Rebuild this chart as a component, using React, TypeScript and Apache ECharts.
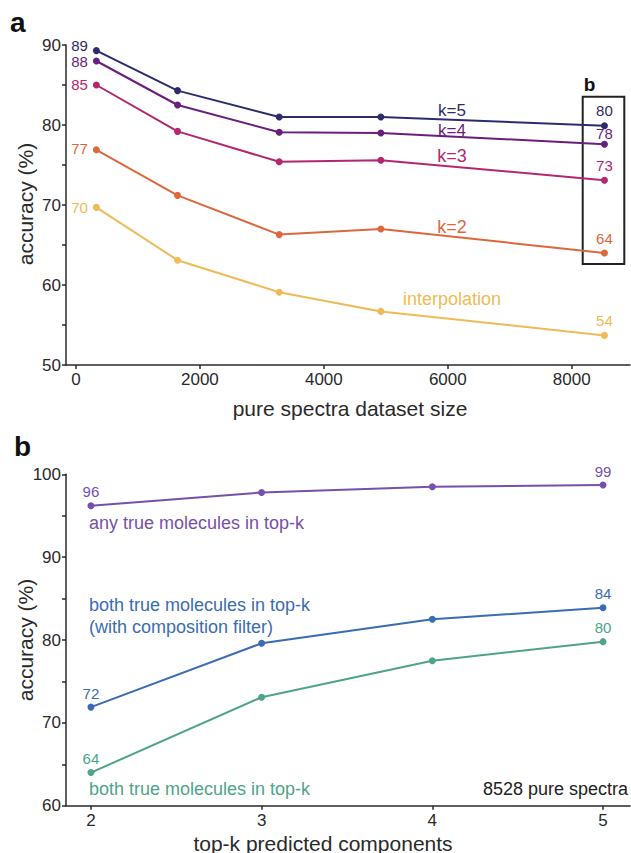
import React, { useEffect, useRef } from "react";
import * as echarts from "echarts";

// ---- Panel a data ----
const datasetSizes = [330, 1640, 3280, 4920, 8528];
const k5 = [89.3, 84.3, 81.0, 81.0, 79.9];
const k4 = [88.0, 82.5, 79.1, 79.0, 77.6];
const k3 = [85.0, 79.2, 75.4, 75.6, 73.1];
const k2 = [76.9, 71.2, 66.3, 67.0, 64.0];
const interpolation = [69.7, 63.1, 59.1, 56.7, 53.7];
const xTicksA = [0, 2000, 4000, 6000, 8000];

// ---- Panel b data ----
const topK = [2, 3, 4, 5];
const anyTrue = [96.2, 97.8, 98.5, 98.7];
const bothFilter = [71.9, 79.6, 82.5, 83.9];
const bothTrue = [64.0, 73.1, 77.5, 79.8];

const FONT = "'Liberation Sans', Arial, sans-serif";
const AX = "#2a2a2a";

const C = {
  k5: "#2c2c6c",
  k4: "#6a1f7c",
  k3: "#b3276e",
  k2: "#dc683c",
  interp: "#eebb57",
  any: "#7651a9",
  filt: "#3a6cb4",
  both: "#4ea487",
};

function seriesA(name: string, vals: number[], color: string, firstOffset: number[], lastOffset: number[]) {
  const n = vals.length;
  return {
    type: "line",
    name,
    xAxisIndex: 0,
    yAxisIndex: 0,
    clip: false,
    symbol: "circle",
    symbolSize: 7,
    lineStyle: { color, width: 2 },
    itemStyle: { color },
    data: vals.map((v, i) => {
      const item: any = { value: [datasetSizes[i], v] };
      if (i === 0) {
        item.label = {
          show: true,
          position: "left",
          distance: 5,
          offset: firstOffset,
          formatter: String(Math.round(v)),
          color,
          fontSize: 15,
          fontFamily: FONT,
        };
      } else if (i === n - 1) {
        item.label = {
          show: true,
          position: "top",
          distance: 4,
          offset: lastOffset,
          formatter: String(Math.round(v)),
          color,
          fontSize: 15,
          fontFamily: FONT,
        };
      }
      return item;
    }),
  };
}

function seriesB(name: string, vals: number[], color: string) {
  const n = vals.length;
  return {
    type: "line",
    name,
    xAxisIndex: 1,
    yAxisIndex: 1,
    clip: false,
    symbol: "circle",
    symbolSize: 7,
    lineStyle: { color, width: 2 },
    itemStyle: { color },
    data: vals.map((v, i) => {
      const item: any = { value: [topK[i], v] };
      if (i === 0 || i === n - 1) {
        item.label = {
          show: true,
          position: "top",
          distance: 3,
          formatter: String(Math.round(v)),
          color,
          fontSize: 15,
          fontFamily: FONT,
        };
      }
      return item;
    }),
  };
}

function txt(text: string, x: number, y: number, color: string, size: number, align = "left", extra: any = {}) {
  return {
    type: "text",
    x,
    y,
    style: {
      text,
      fill: color,
      font: `${extra.bold ? "bold " : ""}${size}px ${FONT}`,
      textAlign: align,
      textVerticalAlign: "middle",
    },
  };
}

export default function App() {
  const ref = useRef<HTMLDivElement>(null);
  useEffect(() => {
    if (!ref.current) return;
    const chart = echarts.init(ref.current, null, { renderer: "svg" });
    const axisCommon = {
      axisLine: { show: true, onZero: false, lineStyle: { color: AX, width: 1.5 } },
      splitLine: { show: false },
    };
    const plain = (v: number) => String(v);
    const tens = (v: number) => (v % 10 === 0 ? String(v) : "");
    const option: any = {
      animation: false,
      backgroundColor: "#ffffff",
      textStyle: { fontFamily: FONT },
      grid: [
        { left: 66, top: 45, width: 564, height: 320 },
        { left: 66, top: 474.3, width: 564, height: 331.4 },
      ],
      xAxis: [
        {
          gridIndex: 0,
          type: "value",
          min: -160,
          max: 8940,
          ...axisCommon,
          axisTick: { show: true, length: 4, customValues: xTicksA, lineStyle: { color: AX, width: 1.5 } },
          axisLabel: { customValues: xTicksA, fontSize: 17, color: AX, margin: 6, fontFamily: FONT, formatter: plain },
        },
        {
          gridIndex: 1,
          type: "value",
          min: 1.854,
          max: 5.158,
          ...axisCommon,
          axisTick: { show: true, length: 4, customValues: topK, lineStyle: { color: AX, width: 1.5 } },
          axisLabel: { customValues: topK, fontSize: 17, color: AX, margin: 6, fontFamily: FONT, formatter: plain },
        },
      ],
      yAxis: [
        {
          gridIndex: 0,
          type: "value",
          min: 50,
          max: 90,
          interval: 5,
          ...axisCommon,
          axisTick: { show: true, length: 4, lineStyle: { color: AX, width: 1.5 } },
          axisLabel: { fontSize: 17, color: AX, margin: 5, fontFamily: FONT, formatter: tens },
        },
        {
          gridIndex: 1,
          type: "value",
          min: 60,
          max: 100,
          interval: 5,
          ...axisCommon,
          axisTick: { show: true, length: 4, lineStyle: { color: AX, width: 1.5 } },
          axisLabel: { fontSize: 17, color: AX, margin: 5, fontFamily: FONT, formatter: tens },
        },
      ],
      series: [
        seriesA("interpolation", interpolation, C.interp, [0, 0], [0, 0]),
        seriesA("k=2", k2, C.k2, [0, -1], [0, 0]),
        seriesA("k=3", k3, C.k3, [0, -1], [0, 0]),
        seriesA("k=4", k4, C.k4, [0, 0], [0, 4]),
        seriesA("k=5", k5, C.k5, [0, -5], [0, 0]),
        seriesB("both true molecules in top-k", bothTrue, C.both),
        seriesB("both true molecules in top-k (with composition filter)", bothFilter, C.filt),
        seriesB("any true molecules in top-k", anyTrue, C.any),
      ],
      graphic: [
        txt("a", 10, 22, "#111", 28, "left", { bold: true }),
        txt("b", 14, 446, "#111", 28, "left", { bold: true }),
        {
          type: "text",
          x: 25,
          y: 204,
          rotation: Math.PI / 2,
          style: { text: "accuracy (%)", fill: AX, font: `21px ${FONT}`, textAlign: "center", textVerticalAlign: "middle" },
        },
        {
          type: "text",
          x: 25,
          y: 640,
          rotation: Math.PI / 2,
          style: { text: "accuracy (%)", fill: AX, font: `21px ${FONT}`, textAlign: "center", textVerticalAlign: "middle" },
        },
        txt("pure spectra dataset size", 350, 408, AX, 21, "center"),
        txt("top-k predicted components", 323, 843, AX, 21, "center"),
        txt("k=5", 452, 110, C.k5, 17, "center"),
        txt("k=4", 452, 130, C.k4, 17, "center"),
        txt("k=3", 452, 156, C.k3, 18, "center"),
        txt("k=2", 452, 227, C.k2, 18, "center"),
        txt("interpolation", 452, 299, C.interp, 18, "center"),
        {
          type: "rect",
          shape: { x: 582.7, y: 96.7, width: 41.6, height: 167.3 },
          style: { fill: "none", stroke: "#222", lineWidth: 2 },
        },
        txt("b", 589.5, 84, "#111", 19, "center", { bold: true }),
        txt("any true molecules in top-k", 89, 523, C.any, 18, "left"),
        txt("both true molecules in top-k", 89, 605, C.filt, 18, "left"),
        txt("(with composition filter)", 89, 627, C.filt, 18, "left"),
        txt("both true molecules in top-k", 89, 789, C.both, 18, "left"),
        txt("8528 pure spectra", 628, 789, "#222", 18, "right"),
      ],
    };
    chart.setOption(option);
    return () => chart.dispose();
  }, []);
  return (
    <div
      ref={ref}
      style={{ position: "fixed", left: 0, top: 0, width: 631, height: 853, background: "#fff" }}
    />
  );
}
